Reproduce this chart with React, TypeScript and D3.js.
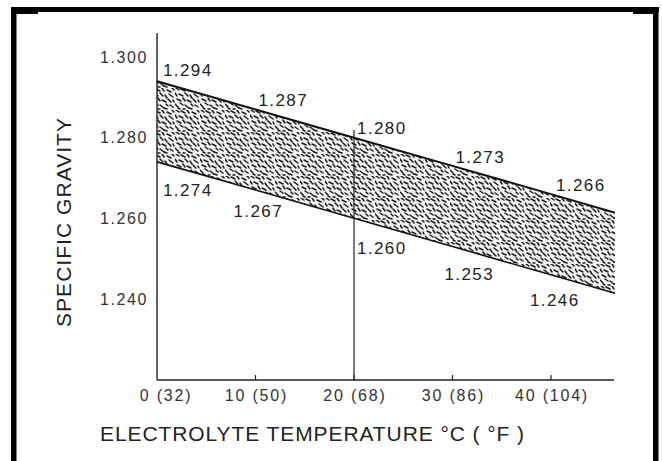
import React from "react";
import * as d3 from "d3";

// ---- data ----
const bandTempsC = [0, 10, 20, 30, 40, 46.5];
const upperSG = [1.294, 1.287, 1.28, 1.273, 1.266, 1.2614];
const lowerSG = [1.274, 1.267, 1.26, 1.253, 1.246, 1.2414];
const upperLabels = ["1.294", "1.287", "1.280", "1.273", "1.266"];
const lowerLabels = ["1.274", "1.267", "1.260", "1.253", "1.246"];
const xTicksC = [0, 10, 20, 30, 40];
const xTicksF = [32, 50, 68, 86, 104];
const yTicks = [1.24, 1.26, 1.28, 1.3];
const yTickLabels = ["1.240", "1.260", "1.280", "1.300"];

// ---- layout ----
const W = 662;
const H = 461;
const upperOffsets = [[6, -11], [3, -10], [3, -10], [3, -9], [5, -9]];
const lowerOffsets = [[6, 28], [-22, 21], [3, 30], [-8, 27], [-21, 25]];

// deterministic stipple dashes for texture tile (x, y, dx, dy)
const stipple = [
  [1, 0, 3, 2], [6, 1, 4, 2], [12, 0, 2, 3], [17, 2, 4, 2], [22, 0, 2, 2],
  [0, 5, 2, 3], [4, 6, 4, 2], [10, 5, 3, 3], [15, 7, 2, 3], [19, 6, 4, 3],
  [2, 11, 4, 2], [8, 10, 2, 3], [12, 12, 4, 2], [18, 11, 3, 3], [23, 12, 1, 2],
  [0, 16, 3, 3], [5, 15, 3, 2], [10, 17, 4, 3], [16, 16, 2, 2], [20, 17, 3, 2],
  [3, 20, 2, 1], [14, 20, 3, 1], [8, 21, 2, 0],
];

export default function App() {
  const x = d3.scaleLinear().domain([0, 40]).range([157, 551]);
  const y = d3.scaleLinear().domain([1.24, 1.3]).range([299, 57]);

  const pts = bandTempsC.map((t, i) => ({ t, u: upperSG[i], l: lowerSG[i] }));
  const area = d3
    .area<{ t: number; u: number; l: number }>()
    .x((d) => x(d.t))
    .y0((d) => y(d.l))
    .y1((d) => y(d.u));
  const upperLine = d3
    .line<{ t: number; u: number; l: number }>()
    .x((d) => x(d.t))
    .y((d) => y(d.u));
  const lowerLine = d3
    .line<{ t: number; u: number; l: number }>()
    .x((d) => x(d.t))
    .y((d) => y(d.l));

  const axisY0 = 380;
  const axisXEnd = x(46.4);
  const font = "'Liberation Sans', Arial, Helvetica, sans-serif";
  const ink = "#222";

  return (
    <svg
      width={W}
      height={H}
      style={{ position: "absolute", left: 0, top: 0, background: "#fff" }}
      fontFamily={font}
    >
      <defs>
        <pattern id="stip" width={25} height={22} patternUnits="userSpaceOnUse">
          {stipple.map((s, i) => (
            <line
              key={i}
              x1={s[0]}
              y1={s[1]}
              x2={s[0] + s[2]}
              y2={s[1] + s[3]}
              stroke="#1a1a1a"
              strokeWidth={1.5}
              strokeLinecap="round"
            />
          ))}
        </pattern>
      </defs>
      <rect x={0} y={0} width={W} height={H} fill="#fff" />

      {/* frame */}
      <rect x={11} y={7} width={648} height={5} fill="#000" />
      <rect x={11} y={7} width={5.5} height={H} fill="#000" />
      <rect x={653} y={7} width={5.5} height={H} fill="#000" />
      <rect x={16} y={12} width={22} height={2} fill="#000" />
      <rect x={633} y={12} width={20} height={2} fill="#000" />

      {/* band */}
      <path d={area(pts) || ""} fill="#f2f2f2" />
      <path d={area(pts) || ""} fill="url(#stip)" />
      <path d={upperLine(pts) || ""} fill="none" stroke="#111" strokeWidth={2} />
      <path d={lowerLine(pts) || ""} fill="none" stroke="#111" strokeWidth={1.6} />

      {/* axes */}
      <line x1={x(0)} y1={33} x2={x(0)} y2={axisY0} stroke={ink} strokeWidth={1.4} />
      <line x1={x(0)} y1={axisY0} x2={axisXEnd} y2={axisY0} stroke={ink} strokeWidth={1.4} />
      {xTicksC.slice(1).map((t) => (
        <line key={t} x1={x(t)} y1={axisY0} x2={x(t)} y2={axisY0 - 5} stroke={ink} strokeWidth={1.2} />
      ))}
      <line x1={x(20)} y1={130} x2={x(20)} y2={axisY0} stroke={ink} strokeWidth={1.2} />

      {/* y tick labels */}
      {yTicks.map((v, i) => (
        <text
          key={v}
          x={148}
          y={y(v)}
          dy="0.36em"
          textAnchor="end"
          fontSize={16}
          letterSpacing={1.6}
          fill="#333"
        >
          {yTickLabels[i]}
        </text>
      ))}

      {/* x tick labels */}
      {xTicksC.map((t, i) => (
        <text
          key={t}
          x={x(t) + (i === 0 ? 9 : 1)}
          y={395}
          dy="0.36em"
          textAnchor="middle"
          fontSize={16}
          letterSpacing={1.8}
          fill="#333"
        >
          {`${t} (${xTicksF[i]})`}
        </text>
      ))}

      {/* band value labels */}
      {upperLabels.map((s, i) => (
        <text
          key={"u" + i}
          x={x(bandTempsC[i]) + upperOffsets[i][0]}
          y={y(upperSG[i]) + upperOffsets[i][1]}
          dy="0.36em"
          fontSize={17}
          letterSpacing={1.4}
          fill={ink}
        >
          {s}
        </text>
      ))}
      {lowerLabels.map((s, i) => (
        <text
          key={"l" + i}
          x={x(bandTempsC[i]) + lowerOffsets[i][0]}
          y={y(lowerSG[i]) + lowerOffsets[i][1]}
          dy="0.36em"
          fontSize={17}
          letterSpacing={1.4}
          fill={ink}
        >
          {s}
        </text>
      ))}

      {/* axis titles */}
      <text
        x={100}
        y={433}
        dy="0.36em"
        fontSize={21}
        textLength={424}
        lengthAdjust="spacing"
        fill={ink}
      >
        ELECTROLYTE TEMPERATURE °C ( °F )
      </text>
      <text
        transform="translate(63,222.5) rotate(-90)"
        textAnchor="middle"
        dy="0.36em"
        fontSize={21}
        textLength={209}
        lengthAdjust="spacing"
        fill={ink}
      >
        SPECIFIC GRAVITY
      </text>
    </svg>
  );
}
